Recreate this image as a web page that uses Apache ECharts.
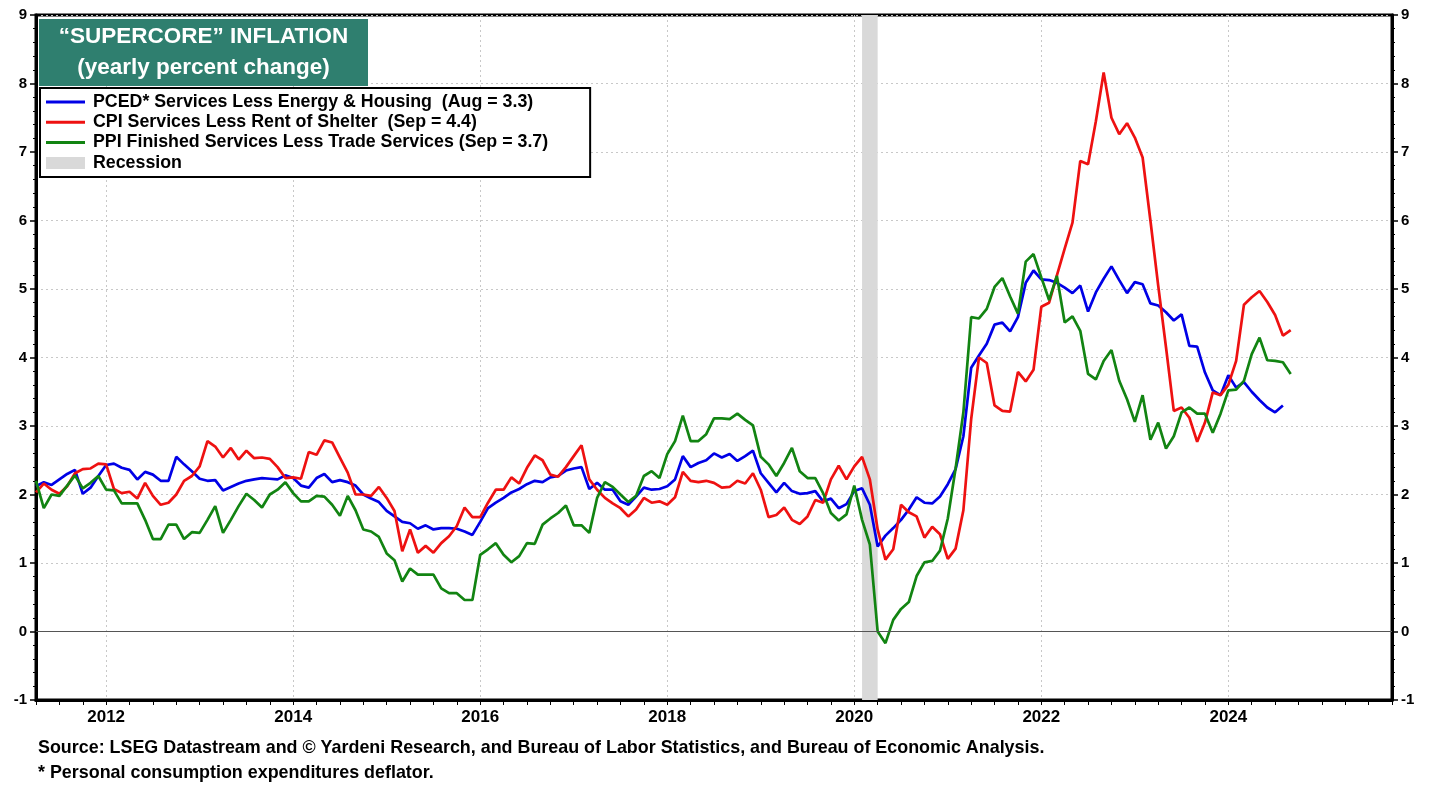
<!DOCTYPE html>
<html><head><meta charset="utf-8">
<script src="https://cdn.jsdelivr.net/npm/echarts@6/dist/echarts.min.js"></script>
<style>html,body{margin:0;padding:0;background:#fff}#c{width:1440px;height:785px}</style>
</head><body><div id="c"></div>
<script>
// ---- data (monthly, starting Apr 2011) ----
const firstMonth = '2011-04';
const lastAxisMonth = '2025-10';
const yearLabels = ['2012','2014','2016','2018','2020','2022','2024'];
const recession = ['2020-02','2020-04'];
const seriesNames = [
  'PCED* Services Less Energy & Housing  (Aug = 3.3)',
  'CPI Services Less Rent of Shelter  (Sep = 4.4)',
  'PPI Finished Services Less Trade Services (Sep = 3.7)'
];
const pced = [2.12,2.18,2.14,2.22,2.30,2.36,2.01,2.10,2.27,2.43,2.45,2.39,2.36,2.22,2.33,2.29,2.20,2.20,2.55,2.44,
2.34,2.23,2.20,2.21,2.06,2.11,2.16,2.20,2.22,2.24,2.23,2.22,2.28,2.24,2.13,2.10,2.24,2.30,2.18,2.21,
2.18,2.13,2.00,1.94,1.89,1.76,1.68,1.60,1.58,1.50,1.55,1.49,1.51,1.51,1.50,1.46,1.41,1.60,1.80,1.88,
1.95,2.03,2.08,2.15,2.20,2.18,2.25,2.27,2.35,2.38,2.40,2.08,2.17,2.07,2.07,1.90,1.85,1.97,2.10,2.07,
2.08,2.12,2.22,2.56,2.40,2.46,2.50,2.60,2.54,2.59,2.49,2.56,2.64,2.31,2.17,2.03,2.17,2.05,2.01,2.02,
2.05,1.90,1.94,1.80,1.86,2.05,2.09,1.85,1.24,1.40,1.51,1.63,1.78,1.96,1.88,1.87,1.97,2.15,2.37,2.85,
3.85,4.03,4.20,4.48,4.51,4.38,4.59,5.09,5.27,5.14,5.13,5.09,5.02,4.94,5.05,4.67,4.95,5.15,5.33,5.13,
4.94,5.10,5.07,4.79,4.76,4.66,4.54,4.63,4.17,4.16,3.78,3.52,3.45,3.74,3.56,3.64,3.50,3.38,3.27,3.20,
3.30];
const cpi = [2.03,2.16,2.07,2.01,2.12,2.31,2.37,2.38,2.45,2.44,2.08,2.02,2.04,1.94,2.17,1.98,1.85,1.88,2.00,2.20,
2.27,2.41,2.78,2.70,2.54,2.68,2.51,2.64,2.53,2.54,2.52,2.40,2.24,2.25,2.23,2.62,2.58,2.79,2.76,2.54,
2.32,2.00,2.00,1.98,2.11,1.95,1.76,1.17,1.49,1.15,1.25,1.15,1.29,1.39,1.54,1.81,1.67,1.67,1.88,2.07,
2.07,2.25,2.16,2.39,2.57,2.50,2.29,2.26,2.40,2.56,2.72,2.22,2.07,1.95,1.87,1.80,1.68,1.78,1.95,1.88,
1.90,1.85,1.96,2.33,2.20,2.18,2.20,2.17,2.10,2.11,2.20,2.16,2.31,2.07,1.67,1.70,1.81,1.63,1.57,1.68,
1.92,1.88,2.22,2.42,2.22,2.41,2.55,2.22,1.49,1.05,1.20,1.85,1.74,1.68,1.37,1.53,1.42,1.06,1.21,1.77,
3.10,4.00,3.92,3.30,3.22,3.21,3.79,3.65,3.82,4.74,4.80,5.20,5.59,5.97,6.87,6.82,7.45,8.16,7.50,7.26,
7.42,7.21,6.92,6.00,5.05,4.15,3.22,3.27,3.12,2.77,3.05,3.49,3.45,3.60,3.95,4.77,4.88,4.97,4.81,4.62,
4.32,4.40];
const ppi = [2.20,1.80,2.00,1.98,2.13,2.28,2.09,2.17,2.27,2.07,2.06,1.87,1.87,1.87,1.63,1.35,1.35,1.56,1.56,1.35,
1.45,1.44,1.63,1.83,1.44,1.63,1.83,2.01,1.92,1.81,2.00,2.07,2.18,2.02,1.90,1.90,1.98,1.97,1.85,1.69,
1.98,1.77,1.49,1.46,1.38,1.14,1.04,0.73,0.92,0.83,0.83,0.83,0.63,0.56,0.56,0.46,0.46,1.12,1.20,1.29,
1.12,1.01,1.10,1.29,1.28,1.56,1.65,1.73,1.84,1.55,1.55,1.44,1.95,2.18,2.11,2.00,1.89,1.98,2.27,2.34,
2.24,2.59,2.78,3.15,2.78,2.78,2.88,3.11,3.11,3.10,3.18,3.09,3.01,2.55,2.44,2.27,2.46,2.68,2.34,2.24,
2.24,2.02,1.73,1.62,1.71,2.13,1.63,1.27,0.00,-0.17,0.17,0.33,0.43,0.81,1.01,1.03,1.18,1.65,2.38,3.20,
4.59,4.57,4.71,5.03,5.16,4.89,4.64,5.40,5.51,5.17,4.84,5.19,4.51,4.60,4.39,3.76,3.68,3.95,4.11,3.66,
3.39,3.06,3.45,2.80,3.05,2.67,2.85,3.20,3.27,3.18,3.18,2.90,3.18,3.52,3.53,3.66,4.05,4.29,3.96,3.95,
3.93,3.76];

// ---- build month categories ----
const months = [];
(function(){
  let [y,m] = firstMonth.split('-').map(Number);
  const [ey,em] = lastAxisMonth.split('-').map(Number);
  while (y < ey || (y === ey && m <= em)) {
    months.push(y + '-' + String(m).padStart(2,'0'));
    m++; if (m > 12) { m = 1; y++; }
  }
})();

const FONT = '"Liberation Sans", Arial, Helvetica, sans-serif';
const isYearLabel = (i, v) => v.endsWith('-01') && yearLabels.includes(v.slice(0,4));
const isQuarter = (i, v) => ['01','04','07','10'].includes(v.slice(5));
const LINE_ICON = 'path://M0,0L39,0L39,3L0,3Z';

const chart = echarts.init(document.getElementById('c'), null, {renderer:'canvas'});
const yAxisBase = {
  type:'value', min:-1, max:9, interval:1,
  axisLine:{show:true, lineStyle:{color:'#000', width:3}},
  axisTick:{show:true, length:6, lineStyle:{color:'#000', width:1.5}},
  minorTick:{show:true, splitNumber:5, length:3, lineStyle:{color:'#000', width:1}},
  axisLabel:{color:'#000', fontWeight:'bold', fontSize:15, fontFamily:FONT, margin:9},
  minorSplitLine:{show:false}
};
chart.setOption({
  animation:false,
  backgroundColor:'#fff',
  grid:{left:36, right:48, top:15, bottom:85, show:true, borderColor:'#000', borderWidth:3, backgroundColor:'rgba(0,0,0,0)'},
  xAxis:{
    type:'category', data:months, boundaryGap:false,
    axisLine:{show:true, onZero:false, lineStyle:{color:'#000', width:3}},
    axisTick:{show:true, interval:isQuarter, length:5, lineStyle:{color:'#000', width:1}},
    axisLabel:{interval:isYearLabel, formatter:v=>v.slice(0,4), color:'#000', fontWeight:'bold', fontSize:17, fontFamily:FONT, margin:9},
    splitLine:{show:true, interval:isYearLabel, lineStyle:{color:'#c8c8c8', type:[2,3], width:1}}
  },
  yAxis:[
    Object.assign({}, yAxisBase, {position:'left', splitLine:{show:true, lineStyle:{color:'#c8c8c8', type:[2,3], width:1}}}),
    Object.assign({}, yAxisBase, {position:'right', splitLine:{show:false}})
  ],
  legend:{
    orient:'vertical', left:40, top:88,
    backgroundColor:'#fff', borderColor:'#000', borderWidth:2,
    padding:[5,42,5,6], itemGap:2.3, itemWidth:39, itemHeight:12,
    textStyle:{color:'#000', fontWeight:'bold', fontSize:17.8, fontFamily:FONT, padding:[0,0,0,3]},
    data:[
      {name:seriesNames[0], icon:LINE_ICON},
      {name:seriesNames[1], icon:LINE_ICON},
      {name:seriesNames[2], icon:LINE_ICON},
      {name:'Recession', icon:'rect', itemStyle:{color:'#d9d9d9'}}
    ],
    selectedMode:false, z:20
  },
  graphic:[
    {type:'rect', z:100, shape:{x:39, y:19, width:329, height:67}, style:{fill:'#2f7f6f'}},
    {type:'text', z:101, style:{text:'\u201CSUPERCORE\u201D INFLATION', x:203.5, y:37, textAlign:'center', textVerticalAlign:'middle', font:'bold 22.5px '+FONT, fill:'#fff'}},
    {type:'text', z:101, style:{text:'(yearly percent change)', x:203.5, y:68, textAlign:'center', textVerticalAlign:'middle', font:'bold 22.5px '+FONT, fill:'#fff'}},
    {type:'text', z:101, style:{text:'Source: LSEG Datastream and \u00A9 Yardeni Research, and Bureau of Labor Statistics, and Bureau of Economic Analysis.', x:38, y:748, textVerticalAlign:'middle', font:'bold 17.9px '+FONT, fill:'#000'}},
    {type:'text', z:101, style:{text:'* Personal consumption expenditures deflator.', x:38, y:773, textVerticalAlign:'middle', font:'bold 17.9px '+FONT, fill:'#000'}}
  ],
  series:[
    {name:'Recession', type:'line', data:[], z:1, itemStyle:{color:'#d9d9d9'},
     markArea:{silent:true, itemStyle:{color:'#d9d9d9'}, data:[[{xAxis:recession[0]},{xAxis:recession[1]}]]},
     markLine:{silent:true, symbol:['none','none'], label:{show:false}, lineStyle:{color:'#555', type:'solid', width:1}, data:[{yAxis:0}]}
    },
    {name:seriesNames[0], type:'line', data:pced, symbol:'none', z:3, lineStyle:{color:'#0000e6', width:2.7}, itemStyle:{color:'#0000e6'}},
    {name:seriesNames[1], type:'line', data:cpi, symbol:'none', z:3, lineStyle:{color:'#ee1111', width:2.7}, itemStyle:{color:'#ee1111'}},
    {name:seriesNames[2], type:'line', data:ppi, symbol:'none', z:3, lineStyle:{color:'#128412', width:2.7}, itemStyle:{color:'#128412'}}
  ]
});
</script>
</body></html>
